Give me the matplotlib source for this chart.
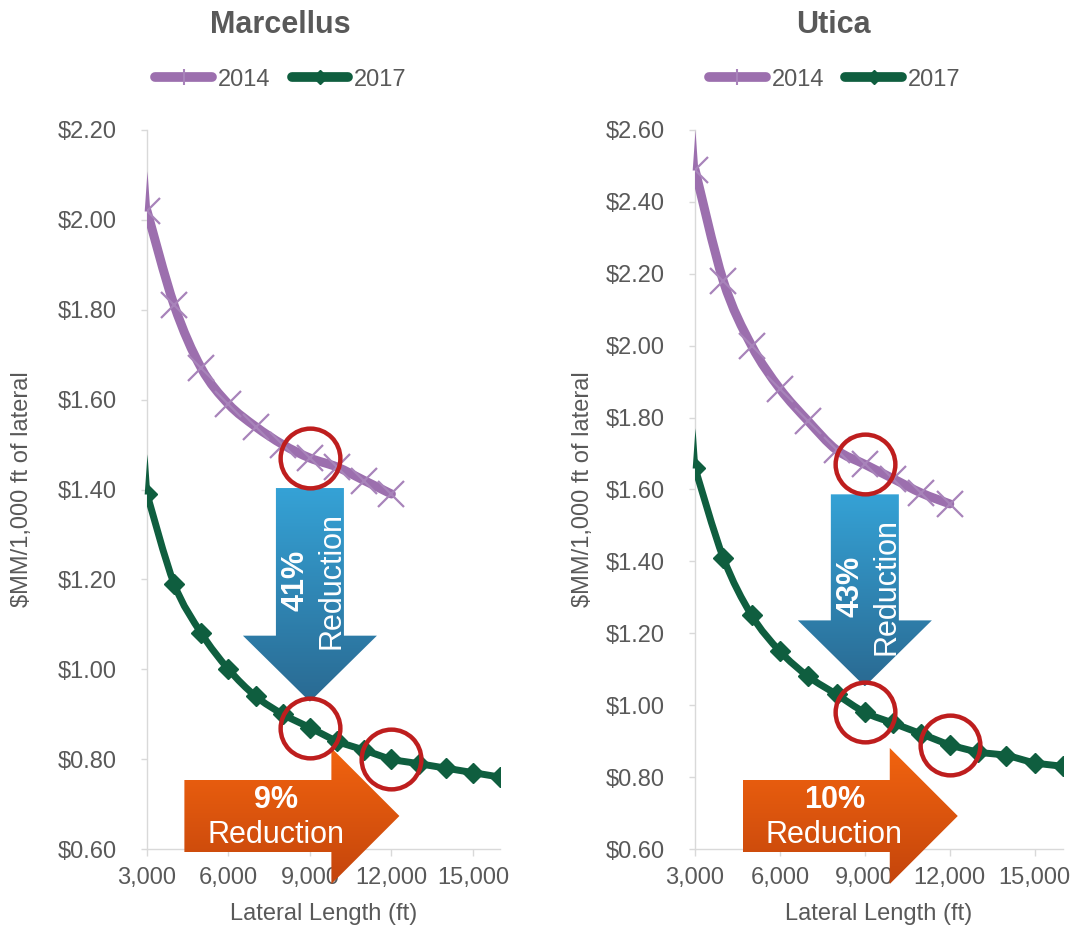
import numpy as np
import matplotlib.pyplot as plt
from matplotlib.patches import Polygon, PathPatch
from matplotlib.path import Path
from matplotlib.lines import Line2D
from matplotlib.ticker import FuncFormatter
import matplotlib.colors as mcolors

plt.rcParams['font.family'] = ['Liberation Sans', 'DejaVu Sans']

# lateral length (ft)
length_2014 = [3000, 4000, 5000, 6000, 7000, 8000, 9000, 10000, 11000, 12000]
length_2017 = [3000, 4000, 5000, 6000, 7000, 8000, 9000, 10000, 11000, 12000,
               13000, 14000, 15000, 16000]

# well cost, $MM per 1,000 ft of lateral
marcellus_2014 = [2.02, 1.81, 1.67, 1.59, 1.54, 1.50, 1.47, 1.45, 1.42, 1.39]
marcellus_2017 = [1.39, 1.19, 1.08, 1.00, 0.94, 0.90, 0.87, 0.84, 0.82, 0.80,
                  0.79, 0.78, 0.77, 0.76]
utica_2014 = [2.49, 2.18, 2.00, 1.88, 1.79, 1.71, 1.67, 1.63, 1.59, 1.56]
utica_2017 = [1.66, 1.41, 1.25, 1.15, 1.08, 1.03, 0.98, 0.95, 0.92, 0.89,
              0.87, 0.86, 0.84, 0.83]

titles = ['Marcellus', 'Utica']
ylims = [(0.6, 2.2), (0.6, 2.6)]
yr_reduction = ['41%', '43%']
len_reduction = ['9%', '10%']
compare_short = 9000
compare_long = 12000

PURPLE = '#9C6FAE'
PURPLE_MK = '#A883BA'
GREEN = '#0F5E3F'
RED = '#BE1E1E'
GREY = '#595959'
AXIS = '#D9D9D9'

FIG_W, FIG_H = 1076, 932
fig = plt.figure(figsize=(FIG_W / 100, FIG_H / 100), dpi=100)
ax_l = fig.add_axes([147 / FIG_W, 1 - 849 / FIG_H, 353 / FIG_W, 719 / FIG_H])
ax_r = fig.add_axes([695 / FIG_W, 1 - 849 / FIG_H, 368 / FIG_W, 719 / FIG_H])

# transparent layer on top for the callout arrows, so they can run over
# the tick labels below the plot area
over = fig.add_axes([0, 0, 1, 1], zorder=10)
over.set_axis_off()
over.set_autoscale_on(False)
over.set_xlim(0, 1)
over.set_ylim(0, 1)

# thin upward spike that the smoothed line leaves at its first point
spike = Path([(-0.07, 0), (0.07, 0), (0, 1), (-0.07, 0)],
             [Path.MOVETO, Path.LINETO, Path.LINETO, Path.CLOSEPOLY])


def px(ax, dx, dy):
    b = ax.get_position()
    return dx / (b.width * FIG_W), dy / (b.height * FIG_H)


def frac(ax, x, y):
    x0, x1 = ax.get_xlim()
    y0, y1 = ax.get_ylim()
    return (x - x0) / (x1 - x0), (y - y0) / (y1 - y0)


def smooth_path(x, y):
    # cubic Bezier through every point (Excel-style smoothed line)
    p = np.column_stack([x, y]).astype(float)
    ext = np.vstack([p[0], p, p[-1]])
    verts = [p[0]]
    codes = [Path.MOVETO]
    for k in range(len(p) - 1):
        c1 = ext[k + 1] + (ext[k + 2] - ext[k]) / 6
        c2 = ext[k + 2] - (ext[k + 3] - ext[k + 1]) / 6
        verts += [c1, c2, p[k + 1]]
        codes += [Path.CURVE4] * 3
    return Path(verts, codes)


def gradient_shape(ax, verts, top, bottom, z):
    verts = np.array(verts)
    patch = Polygon(verts, closed=True, transform=ax.transAxes,
                    facecolor='none', edgecolor='none')
    over.add_patch(patch)
    c0 = np.array(mcolors.to_rgb(top))
    c1 = np.array(mcolors.to_rgb(bottom))
    t = np.linspace(0, 1, 256)[:, None, None]
    grad = c0 * (1 - t) + c1 * t
    im = over.imshow(grad, extent=[verts[:, 0].min(), verts[:, 0].max(),
                                   verts[:, 1].min(), verts[:, 1].max()],
                     transform=ax.transAxes, aspect='auto', origin='upper',
                     zorder=z, interpolation='bilinear')
    im.set_clip_path(patch)


panels = [
    (ax_l, marcellus_2014, marcellus_2017),
    (ax_r, utica_2014, utica_2017),
]

for i, (ax, y14, y17) in enumerate(panels):
    ax.set_autoscale_on(False)
    ax.set_xlim(3000, 16000)
    ax.set_ylim(*ylims[i])

    for xs, ys, col, lw in [(length_2014, y14, PURPLE, 6.5),
                            (length_2017, y17, GREEN, 5)]:
        ax.add_patch(PathPatch(smooth_path(xs, ys), fill=False, edgecolor=col,
                               lw=lw, capstyle='round', joinstyle='round',
                               zorder=3))
        ax.plot(xs[0], ys[0], marker=spike, ms=58, color=col, mew=0,
                zorder=3, clip_on=False)
    ax.plot(length_2014, y14, ls='none', marker='x', ms=19, mew=1.6,
            mec=PURPLE_MK, zorder=3)
    ax.plot(length_2017, y17, ls='none', marker='D', ms=10, mfc=GREEN,
            mec=GREEN, zorder=3)

    i_short = length_2014.index(compare_short)
    j_short = length_2017.index(compare_short)
    j_long = length_2017.index(compare_long)

    # blue arrow: year-over-year drop at 9,000 ft
    xc, y_hi = frac(ax, compare_short, y14[i_short])
    _, y_lo = frac(ax, compare_short, y17[j_short])
    bw, _ = px(ax, 34, 0)
    hw, _ = px(ax, 67, 0)
    _, pad_top = px(ax, 0, 30)
    _, pad_tip = px(ax, 0, 26)
    _, hl = px(ax, 0, 66)
    top = y_hi - pad_top
    tip = y_lo + pad_tip
    gradient_shape(ax, [(xc - bw, top), (xc + bw, top), (xc + bw, tip + hl),
                        (xc + hw, tip + hl), (xc, tip), (xc - hw, tip + hl),
                        (xc - bw, tip + hl)],
                   '#35A2D6', '#2A6A92', z=4)
    ty = top - px(ax, 0, 92)[1]
    over.text(xc - px(ax, 14, 0)[0], ty, yr_reduction[i], rotation=90,
              transform=ax.transAxes, ha='center', va='center', color='white',
              fontsize=22, fontweight='bold', zorder=6)
    over.text(xc + px(ax, 22, 0)[0], ty, 'Reduction', rotation=90,
              transform=ax.transAxes, ha='center', va='center', color='white',
              fontsize=22, zorder=6)

    # orange arrow: longer laterals, 9,000 -> 12,000 ft
    x_tip, _ = frac(ax, compare_long, y17[j_long])
    x_tip += px(ax, 8, 0)[0]
    x_tail = x_tip - px(ax, 215, 0)[0]
    x_head = x_tip - px(ax, 68, 0)[0]
    yc = px(ax, 0, 33)[1]
    bh = px(ax, 0, 36)[1]
    hh = px(ax, 0, 68)[1]
    gradient_shape(ax, [(x_tail, yc + bh), (x_head, yc + bh), (x_head, yc + hh),
                        (x_tip, yc), (x_head, yc - hh), (x_head, yc - bh),
                        (x_tail, yc - bh)],
                   '#F2640F', '#C4450C', z=4)
    tx = (x_tail + x_head) / 2 + px(ax, 18, 0)[0]
    over.text(tx, yc + px(ax, 0, 16)[1], len_reduction[i],
              transform=ax.transAxes, ha='center', va='center', color='white',
              fontsize=22, fontweight='bold', zorder=6)
    over.text(tx, yc - px(ax, 0, 19)[1], 'Reduction', transform=ax.transAxes,
              ha='center', va='center', color='white', fontsize=22, zorder=6)

    # circled comparison points
    over.plot([compare_short, compare_short, compare_long],
              [y14[i_short], y17[j_short], y17[j_long]],
              transform=ax.transData, ls='none', marker='o', ms=43,
              mfc='none', mec=RED, mew=3.2, zorder=7)

    # axes styling
    ax.set_yticks(np.arange(ylims[i][0], ylims[i][1] + 0.01, 0.2))
    ax.set_xticks([3000, 6000, 9000, 12000, 15000])
    ax.yaxis.set_major_formatter(FuncFormatter(lambda v, _: f'${v:.2f}'))
    ax.xaxis.set_major_formatter(FuncFormatter(lambda v, _: f'{int(v):,}'))
    ax.tick_params(axis='y', length=4, width=1, color=AXIS, pad=18,
                   labelsize=17, labelcolor=GREY)
    ax.tick_params(axis='x', length=5, width=1, color=AXIS, pad=8,
                   labelsize=17, labelcolor=GREY)
    for s in ['top', 'right']:
        ax.spines[s].set_visible(False)
    for s in ['left', 'bottom']:
        ax.spines[s].set_color(AXIS)
        ax.spines[s].set_linewidth(1)

    ax.set_xlabel('Lateral Length (ft)', fontsize=17, color=GREY, labelpad=10)
    ax.set_ylabel('$MM/1,000 ft of lateral', fontsize=17, color=GREY)
    ax.yaxis.set_label_coords(-0.323 if i == 0 else -0.274, 0.5)

    ax.text(0.377, 1.146, titles[i], transform=ax.transAxes, ha='center',
            va='center', fontsize=22, fontweight='bold', color=GREY)

    handles = [Line2D([], [], color=PURPLE, lw=7, marker='|', ms=12, mew=1.5,
                      mec=PURPLE_MK, solid_capstyle='round'),
               Line2D([], [], color=GREEN, lw=7, marker='D', ms=7, mfc=GREEN,
                      mec=GREEN, solid_capstyle='round')]
    ax.legend(handles, ['2014', '2017'], loc='center',
              bbox_to_anchor=(0.38, 1.07), ncol=2, frameon=False,
              fontsize=17, labelcolor=GREY, handlelength=2.4,
              handletextpad=0.25, columnspacing=0.9)

fig.savefig('out.png', dpi=100)
